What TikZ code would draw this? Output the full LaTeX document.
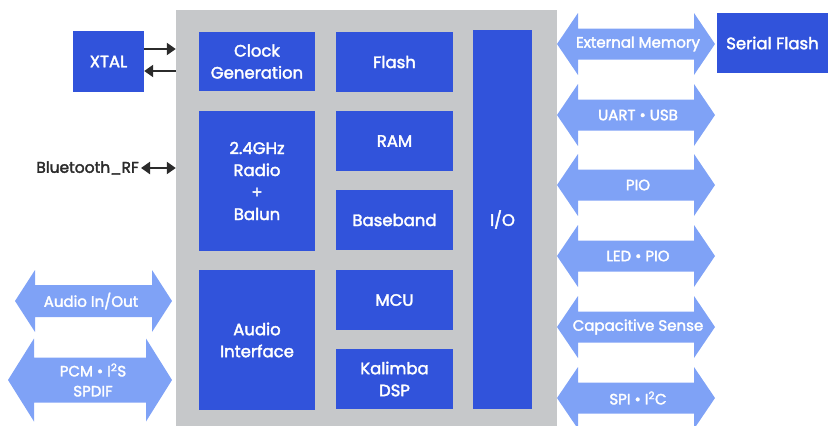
\documentclass[tikz,border=0pt]{standalone}
\usepackage{fontspec}
\setmainfont{Poppins}[FakeBold=2.2]
\usetikzlibrary{arrows.meta}
\definecolor{qblue}{HTML}{3153DB}
\definecolor{busblue}{HTML}{7FA2F6}
\definecolor{chipgray}{HTML}{C6C8CA}
\definecolor{wiregray}{HTML}{2B2B2B}
\tikzset{
	blk/.style={fill=qblue,text=white,align=center,inner sep=0pt,font=\fontsize{16.5}{22}\selectfont},
	bus/.style={fill=busblue},
	bustxt/.style={text=white,align=center,inner sep=0pt,font=\fontsize{15}{20}\selectfont},
	wire/.style={draw=wiregray,line width=2.2pt,-{Triangle[length=9pt,width=12pt]}},
}
% #1 left tip, #2 right tip, #3 middle, #4 head length, #5 head half width, #6 shaft half width
\newcommand{\busshape}[6]{%
	\fill[bus] (#1,#3) -- ({#1+#4},{#3-#5}) -- ({#1+#4},{#3-#6}) -- ({#2-#4},{#3-#6})
	-- ({#2-#4},{#3-#5}) -- (#2,#3) -- ({#2-#4},{#3+#5}) -- ({#2-#4},{#3+#6})
	-- ({#1+#4},{#3+#6}) -- ({#1+#4},{#3+#5}) -- cycle;}
\begin{document}
\begin{tikzpicture}[x=1pt,y=-1pt,line join=round]
	\useasboundingbox (0,0) rectangle (828,426);
	\node[fill=chipgray,minimum width=381pt,minimum height=416pt,inner sep=0pt] (chip) at (366.5,218) {};
	
	% left column
	\node[blk,minimum width=71pt,minimum height=61pt] (xtal) at (108.5,61.5) {XTAL};
	\node[blk,minimum width=116pt,minimum height=59pt] (clk) at (257,61.5) {Clock\\Generation};
	\node[blk,minimum width=116pt,minimum height=140pt] (radio) at (257,181) {2.4GHz\\Radio\\+\\Balun};
	\node[blk,minimum width=116pt,minimum height=140pt] (audio) at (257,340) {Audio\\Interface};
	
	% middle column
	\foreach \n/\yc/\txt in {flash/62/Flash,ram/141/RAM,bb/220/Baseband,mcu/300/MCU,dsp/379/Kalimba\\DSP}
	\node[blk,minimum width=117pt,minimum height=60pt] (\n) at (394.5,\yc) {\txt};
	\node[blk,minimum width=59pt,minimum height=379pt] (io) at (502.5,219.5) {I/O};
	\node[blk,minimum width=111pt,minimum height=60pt] (sflash) at (772.5,43) {Serial Flash};
	
	% crystal and rf
	\coordinate (xa) at ([yshift=12.5pt]xtal.east);
	\coordinate (xb) at ([yshift=-9.5pt]xtal.east);
	\draw[wire] (xa) -- (xa -| chip.west);
	\draw[wire] (xb -| chip.west) -- (xb);
	\node[text=wiregray,anchor=east,inner sep=0pt,font=\fontsize{15.5}{20}\selectfont] (bt) at (139,168) {Bluetooth\_RF};
	\draw[wire,{Triangle[length=9pt,width=12pt]}-{Triangle[length=9pt,width=12pt]}] ([xshift=2pt]bt.east) -- (bt.east -| chip.west);
	
	% buses
	\foreach \n/\yc/\txt in {ext/44/External Memory,uart/115/UART • USB,pio/185/PIO,led/256/LED • PIO,cap/327/Capacitive Sense,spi/398/SPI • I\textsuperscript{2}C}{
		\busshape{557}{715}{\yc}{21}{31}{15.5}
		\node[bustxt] (\n) at (638,\yc) {\txt};
	}
	\busshape{15}{172}{301}{20}{31}{16}
	\node[bustxt] (aio) at (91,301) {Audio In/Out};
	\busshape{8}{172}{380}{26}{41.5}{22.5}
	\node[bustxt] (pcm) at (93,380) {PCM • I\textsuperscript{2}S\\SPDIF};
\end{tikzpicture}
\end{document}
